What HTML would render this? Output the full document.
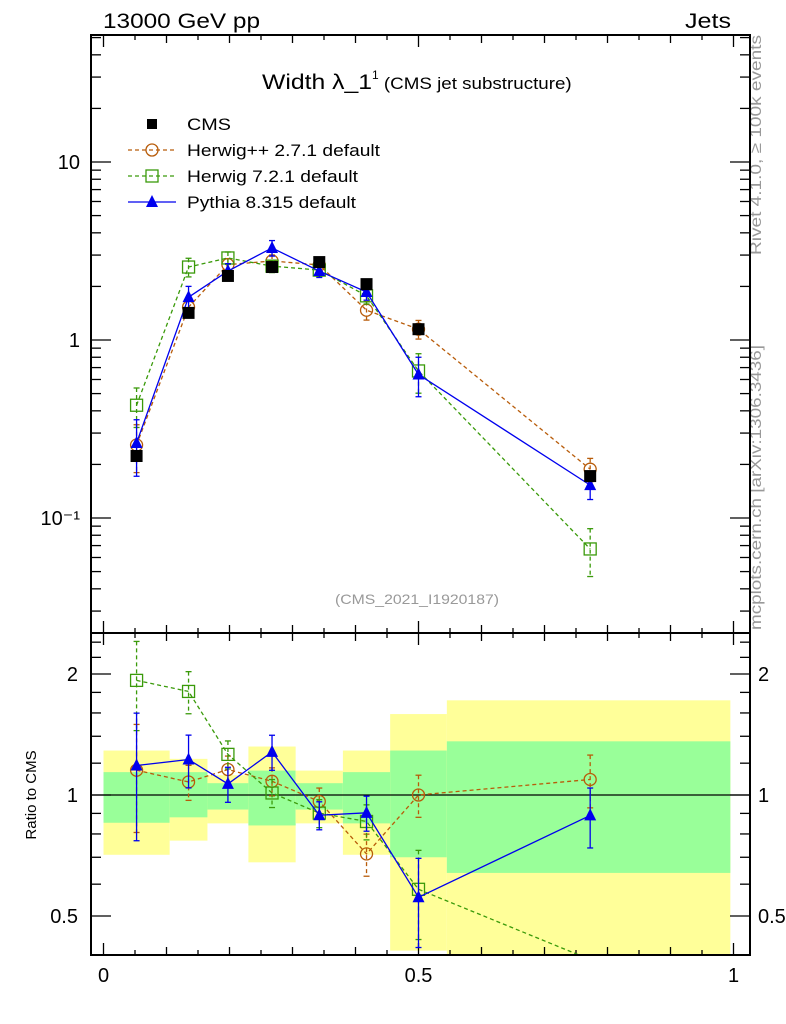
<!DOCTYPE html>
<html><head><meta charset="utf-8"><style>
body{margin:0;background:#fff;}
svg{display:block;font-family:"Liberation Sans",sans-serif;}
</style></head><body>
<svg id="chart" width="786" height="1024" viewBox="0 0 786 1024" xmlns="http://www.w3.org/2000/svg">
<text x="103" y="28" font-size="21" textLength="157" lengthAdjust="spacingAndGlyphs">13000 GeV pp</text>
<text x="685" y="28" font-size="21" textLength="46" lengthAdjust="spacingAndGlyphs">Jets</text>
<text x="262" y="89" font-size="21"><tspan textLength="110" lengthAdjust="spacingAndGlyphs">Width λ_1</tspan><tspan font-size="12" dy="-10">1</tspan><tspan font-size="17" dy="10" textLength="193" lengthAdjust="spacingAndGlyphs"> (CMS jet substructure)</tspan></text>
<text transform="translate(761,255) rotate(-90)" font-size="16" fill="#999" textLength="220" lengthAdjust="spacingAndGlyphs">Rivet 4.1.0, ≥ 100k events</text>
<text transform="translate(761,630) rotate(-90)" font-size="16" fill="#999" textLength="285" lengthAdjust="spacingAndGlyphs">mcplots.cern.ch [arXiv:1306.3436]</text>
<text x="417" y="604" font-size="14" fill="#999" text-anchor="middle" textLength="164" lengthAdjust="spacingAndGlyphs">(CMS_2021_I1920187)</text>
<text transform="translate(36,795) rotate(-90)" font-size="15" text-anchor="middle">Ratio to CMS</text>
<g id="bands"></g><g id="axes"></g><g id="series"></g><g id="legend"></g>
</svg>
<script>
const centers=[0.0525,0.135,0.1975,0.2675,0.3425,0.4175,0.5,0.7725];
const edges=[0,0.105,0.165,0.23,0.305,0.38,0.455,0.545,0.995];
const cms=[0.223,1.42,2.29,2.57,2.74,2.06,1.15,0.172];
const herwigpp=[0.257,1.53,2.65,2.78,2.64,1.47,1.15,0.188];
const herwig7=[0.43,2.57,2.89,2.6,2.47,1.77,0.67,0.067];
const pythia=[0.264,1.74,2.44,3.29,2.44,1.86,0.64,0.153];
const errHpp=[0.3,0.1,0.08,0.08,0.08,0.12,0.12,0.15];
const errH7=[0.25,0.12,0.08,0.08,0.08,0.1,0.25,0.3];
const errPy=[0.35,0.15,0.1,0.1,0.08,0.1,0.25,0.17];
const bandYellowHi=[1.29,1.23,1.12,1.32,1.15,1.29,1.59,1.72];
const bandYellowLo=[0.71,0.77,0.85,0.68,0.85,0.71,0.41,0.38];
const bandGreenHi=[1.14,1.14,1.07,1.15,1.07,1.14,1.29,1.36];
const bandGreenLo=[0.853,0.88,0.92,0.84,0.92,0.85,0.70,0.64];
const mainTicks=[0.1,1,10];
const mainTickLabels=["10⁻¹","1","10"];
const ratioTicks=[0.5,1,2];
const ratioTickLabels=["0.5","1","2"];
const xTicks=[0,0.5,1];
const xTickLabels=["0","0.5","1"];

const L=91,R=750,T=35,M=633,B=955;
const X=v=>103.5+630*v;
const Y=v=>340-178*Math.log10(v);
const YR=v=>{const y=795-121*Math.log2(v);return Math.max(M,Math.min(B,y));};
const NS="http://www.w3.org/2000/svg";
function mk(tag,attrs,parent){const e=document.createElementNS(NS,tag);for(const k in attrs)e.setAttribute(k,attrs[k]);parent.appendChild(e);return e;}
const gB=document.getElementById('bands'),gA=document.getElementById('axes'),gS=document.getElementById('series'),gL=document.getElementById('legend');

for(let i=0;i<centers.length;i++){
 const y=mk('rect',{x:X(edges[i]),y:YR(bandYellowHi[i]),width:X(edges[i+1])-X(edges[i]),height:YR(bandYellowLo[i])-YR(bandYellowHi[i]),fill:'#ffff99'},gB);
 
 
 const g=mk('rect',{x:X(edges[i]),y:YR(bandGreenHi[i]),width:X(edges[i+1])-X(edges[i]),height:YR(bandGreenLo[i])-YR(bandGreenHi[i]),fill:'#99ff99'},gB);
 
 
}
mk('line',{x1:L,x2:R,y1:YR(1),y2:YR(1),stroke:'#000','stroke-width':1.3},gB);

const f1=mk('rect',{x:L,y:T,width:R-L,height:M-T,fill:'none',stroke:'#000','stroke-width':2},gA);


const f2=mk('rect',{x:L,y:M,width:R-L,height:B-M,fill:'none',stroke:'#000','stroke-width':2},gA);



for(let k=0;k<=20;k++){const v=k*0.05,x=X(v);const len=(k%10==0)?12:(k%2==0?8:5);
 for(const [y0,d] of [[T,1],[M,-1],[M,1],[B,-1]]) mk('line',{x1:x,x2:x,y1:y0,y2:y0+d*len,stroke:'#000','stroke-width':1.3},gA);}
xTicks.forEach((v,i)=>{const t=mk('text',{x:X(v),y:982,'font-size':20,'text-anchor':'middle'},gA);t.textContent=xTickLabels[i];
 
 });
for(let e=-2;e<=1;e++)for(let m=1;m<=9;m++){const v=m*Math.pow(10,e),y=Y(v);if(y<T||y>M)continue;const len=m==1?20:10;
 mk('line',{x1:L,x2:L+len,y1:y,y2:y,stroke:'#000','stroke-width':1.3},gA);mk('line',{x1:R,x2:R-len,y1:y,y2:y,stroke:'#000','stroke-width':1.3},gA);}
mainTicks.forEach((v,i)=>{const t=mk('text',{x:80,y:Y(v)+7,'font-size':20,'text-anchor':'end'},gA);t.textContent=mainTickLabels[i];
 
 });
[0.4,0.5,0.6,0.7,0.8,0.9,1,1.2,1.4,1.6,1.8,2,2.2,2.4].forEach(v=>{const y=795-121*Math.log2(v);if(y<M||y>B)return;const len=(v==0.5||v==1||v==2)?20:10;
 mk('line',{x1:L,x2:L+len,y1:y,y2:y,stroke:'#000','stroke-width':1.3},gA);mk('line',{x1:R,x2:R-len,y1:y,y2:y,stroke:'#000','stroke-width':1.3},gA);});
ratioTicks.forEach((v,i)=>{const y=YR(v)+7;
 const t=mk('text',{x:78,y:y,'font-size':20,'text-anchor':'end'},gA);t.textContent=ratioTickLabels[i];
 
 
 const t2=mk('text',{x:758,y:y,'font-size':20},gA);t2.textContent=ratioTickLabels[i];
 
 });

function marker(kind,x,y,color,g){
 if(kind=='sq')mk('rect',{x:x-6,y:y-6,width:12,height:12,fill:'#000'},g);
 if(kind=='circ')mk('circle',{cx:x,cy:y,r:6,fill:'none',stroke:color,'stroke-width':1.3},g);
 if(kind=='osq')mk('rect',{x:x-6,y:y-6,width:12,height:12,fill:'none',stroke:color,'stroke-width':1.3},g);
 if(kind=='tri')mk('path',{d:`M${x} ${y-7}L${x+6} ${y+5}L${x-6} ${y+5}Z`,fill:color},g);
}
function series(name,vals,errs,color,dash,kind){
 const g=mk('g',{},gS);
 
 
 const da=dash?'4,3':'';
 mk('polyline',{points:vals.map((v,i)=>X(centers[i])+','+Y(v)).join(' '),fill:'none',stroke:color,'stroke-width':1.3,'stroke-dasharray':da},g);
 const rat=vals.map((v,i)=>v/cms[i]);
 mk('polyline',{points:rat.map((v,i)=>X(centers[i])+','+(795-121*Math.log2(v))).join(' '),fill:'none',stroke:color,'stroke-width':1.3,'stroke-dasharray':da},g);
 vals.forEach((v,i)=>{const x=X(centers[i]);
  [[Y,v],[(w)=>795-121*Math.log2(w),rat[i]]].forEach(([f,w],p)=>{
   const y1=f(w*(1+errs[i])),y2=f(w*(1-errs[i])),y=f(w);
   if(p==1&&(y<M||y>B))return;
   const ya=Math.max(p?M:T,y1),yb=Math.min(p?B:M,y2);
   mk('line',{x1:x,x2:x,y1:ya,y2:yb,stroke:color,'stroke-width':1.3,'stroke-dasharray':da},g);
   mk('line',{x1:x-3,x2:x+3,y1:ya,y2:ya,stroke:color,'stroke-width':1.3},g);
   mk('line',{x1:x-3,x2:x+3,y1:yb,y2:yb,stroke:color,'stroke-width':1.3},g);
   const mg=mk('g',{},g);
   
   
   marker(kind,x,y,color,mg);
  });
 });
}
series('herwigpp',herwigpp,errHpp,'#b85c0a',true,'circ');
series('herwig7',herwig7,errH7,'#3a9a0a',true,'osq');
series('pythia',pythia,errPy,'#0000ee',false,'tri');
cms.forEach((v,i)=>{const g=mk('g',{},gS);
 
 
 marker('sq',X(centers[i]),Y(v),'#000',g);});
mk('rect',{x:L+1,y:B+1,width:R-L,height:12,fill:'#fff'},gS);
mk('line',{x1:L,x2:R,y1:B,y2:B,stroke:'#000','stroke-width':2},gS);
const leg=[['CMS','#000','','sq',false,44],['Herwig++ 2.7.1 default','#b85c0a','4,3','circ',true,193],['Herwig 7.2.1 default','#3a9a0a','4,3','osq',true,171],['Pythia 8.315 default','#0000ee','','tri',true,169]];
leg.forEach((l,i)=>{const y=124+26*i;const g=mk('g',{},gL);
 
 
 if(l[4])mk('line',{x1:128,x2:176,y1:y,y2:y,stroke:l[1],'stroke-width':1.3,'stroke-dasharray':l[2]},g);
 if(l[3]=='sq')mk('rect',{x:147,y:y-5,width:10,height:10,fill:'#000'},g);else marker(l[3],152,y,l[1],g);
 const t=mk('text',{x:187,y:y+6,'font-size':17,textLength:l[5],lengthAdjust:'spacingAndGlyphs'},g);t.textContent=l[0];});
</script>
</body></html>
